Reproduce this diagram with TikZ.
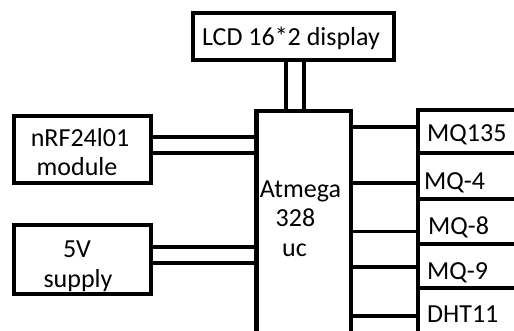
\documentclass[tikz,border=0pt]{standalone}
\usepackage{fontspec}
\setmainfont{Carlito}
\begin{document}
\begin{tikzpicture}[x=1pt,y=-1pt,
  box/.style={draw, line width=4.5pt, inner sep=0pt},
  wire/.style={line width=4pt},
  txt/.style={font=\fontsize{26}{30}\selectfont, inner sep=0pt, anchor=base},
  lbl/.style={txt, anchor=base west}]
\clip (0,0) rectangle (514,331);
% boxes
\node[box, minimum width=201pt, minimum height=47pt] (lcd) at (293.5,36.5) {};
\node[box, minimum width=137pt, minimum height=67pt] (nrf) at (82.5,149.5) {};
\node[box, minimum width=137pt, minimum height=69pt] (sup) at (82.5,259.5) {};
\node[box, minimum width=94.5pt, minimum height=249pt] (uc) at (303.75,235.5) {};
\node[box, minimum width=122pt, minimum height=43pt] (s1) at (479,131.5) {};
\node[box, minimum width=122pt, minimum height=46pt] (s2) at (479,176) {};
\node[box, minimum width=122pt, minimum height=45pt] (s3) at (479,221.5) {};
\node[box, minimum width=122pt, minimum height=44pt] (s4) at (479,266) {};
\node[box, minimum width=122pt, minimum height=72pt] (s5) at (479,324) {};
% texts
\node[txt] (tlcd) at (291,46) {LCD 16*2 display};
\node[txt] (tnrf1) at (80,147) {nRF24l01};
\node[txt] (tnrf2) at (77,176) {module};
\node[txt] (tsup1) at (77,258) {5V};
\node[txt] (tsup2) at (78,287) {supply};
\node[txt] (tuc1) at (300.5,198) {Atmega};
\node[txt] (tuc2) at (295.5,227) {328};
\node[txt] (tuc3) at (294.5,256) {uc};
\node[lbl] (t1) at (427,142) {MQ135};
\node[lbl] (t2) at (424,190) {MQ-4};
\node[lbl] (t3) at (428,235) {MQ-8};
\node[lbl] (t4) at (427,279) {MQ-9};
\node[lbl] (t5) at (427,322) {DHT11};
% connectors
\draw[wire] ([xshift=-8pt]lcd.south) -- ([xshift=-8pt]lcd.south |- uc.north);
\draw[wire] ([xshift=10.2pt]lcd.south) -- ([xshift=10.2pt]lcd.south |- uc.north);
\draw[wire] (nrf.east |- 0,137) -- (uc.west |- 0,137);
\draw[wire] (nrf.east |- 0,153) -- (uc.west |- 0,153);
\draw[wire] (sup.east |- 0,247) -- (uc.west |- 0,247);
\draw[wire] (sup.east |- 0,263) -- (uc.west |- 0,263);
\draw[wire] (uc.east |- 0,127) -- (s1.west |- 0,127);
\draw[wire] (uc.east |- 0,183) -- (s2.west |- 0,183);
\draw[wire, line width=3pt] (uc.east |- 0,232) -- (s3.west |- 0,232);
\draw[wire] (uc.east |- 0,267) -- (s4.west |- 0,267);
\draw[wire] (uc.east |- 0,316) -- (s5.west |- 0,316);
\end{tikzpicture}
\end{document}
